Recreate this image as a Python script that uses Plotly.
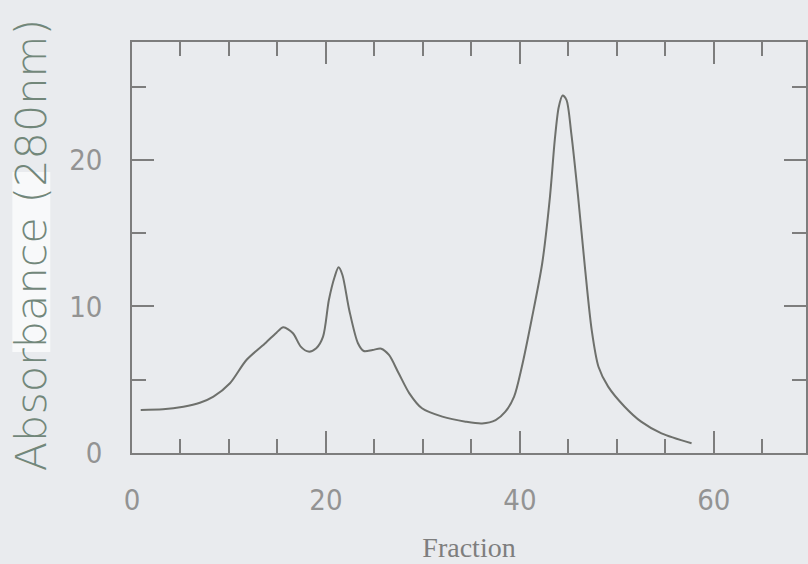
import plotly.graph_objects as go

fraction = [0.9, 3.2, 5.3, 7.0, 8.4, 10.1, 11.8, 13.8, 14.9, 15.6, 16.6, 17.4, 18.2, 19.0, 19.7,
            20.3, 20.9, 21.3, 21.7, 22.4, 23.3, 23.9, 24.8, 25.7, 26.5, 27.5, 28.6, 29.9, 32.0,
            34.4, 36.1, 37.5, 38.5, 39.4, 40.2, 41.2, 42.3, 43.1, 43.6, 44.0, 44.4, 44.8, 45.3,
            46.0, 46.7, 47.4, 48.1, 49.1, 50.8, 52.5, 54.6, 57.7]
absorbance = [2.94, 2.98, 3.16, 3.43, 3.85, 4.76, 6.35, 7.53, 8.21, 8.58, 8.17, 7.26, 6.92, 7.15, 7.94,
              10.44, 12.03, 12.67, 12.15, 9.76, 7.49, 6.96, 7.03, 7.12, 6.69, 5.44, 4.07, 3.05, 2.48,
              2.14, 2.02, 2.25, 2.82, 3.85, 5.89, 9.08, 12.95, 17.5, 21.4, 23.6, 24.4, 24.1, 21.8,
              17.5, 12.7, 8.4, 5.89, 4.53, 3.16, 2.14, 1.34, 0.66]

x_ticks = [0, 20, 40, 60]
y_ticks = [0, 10, 20]

bg = "#e9ebee"
axis_col = "#7d7d7d"
label_col = "#939393"
tick_font = dict(family="DejaVu Sans Condensed, Liberation Sans Narrow, sans-serif", size=29,
                 color=label_col)

fig = go.Figure()
fig.add_trace(go.Scatter(x=fraction, y=absorbance, mode="lines",
                         line=dict(color="#6e706c", width=2, shape="spline", smoothing=0.8),
                         hoverinfo="skip", showlegend=False))

fig.update_layout(
    width=808, height=564,
    margin=dict(l=132, r=0, t=42, b=111),
    paper_bgcolor=bg, plot_bgcolor=bg,
    showlegend=False,
    xaxis=dict(range=[0, 69.5], tickvals=x_ticks, ticks="inside", ticklen=22, tickwidth=1.5,
               tickcolor=axis_col, showline=True, linecolor=axis_col, linewidth=1.5,
               mirror="allticks", showgrid=False, zeroline=False,
               minor=dict(dtick=5, tick0=0, ticks="inside", ticklen=14, tickwidth=1.5,
                          tickcolor=axis_col, showgrid=False),
               tickfont=tick_font,
               ticklabelstandoff=20,
               title=dict(text="Fraction", standoff=22,
                          font=dict(family="Liberation Serif, serif", size=28, color="#7e7e7e"))),
    yaxis=dict(range=[0, 28.05], tickvals=y_ticks, ticks="inside", ticklen=22, tickwidth=1.5,
               tickcolor=axis_col, showline=True, linecolor=axis_col, linewidth=1.5,
               mirror="allticks", showgrid=False, zeroline=False,
               minor=dict(dtick=5, tick0=0, ticks="inside", ticklen=14, tickwidth=1.5,
                          tickcolor=axis_col, showgrid=False),
               tickfont=tick_font,
               ticklabelstandoff=22),
)

# whiteout patch behind part of the handwritten label
fig.add_shape(type="rect", xref="paper", yref="paper",
              x0=(12 - 132) / 676, x1=(50 - 132) / 676,
              y0=(453 - 352) / 411, y1=(453 - 172) / 411,
              fillcolor="#f8f9fa", line=dict(width=0), layer="below")

fig.add_annotation(text="Absorbance (280nm)", xref="paper", yref="paper",
                   x=(31 - 132) / 676, y=(453 - 245) / 411, textangle=-90,
                   showarrow=False, xanchor="center", yanchor="middle",
                   font=dict(family="DejaVu Sans, sans-serif", size=43, weight=300,
                             color="#72877a"))

fig.write_html("out.html")
